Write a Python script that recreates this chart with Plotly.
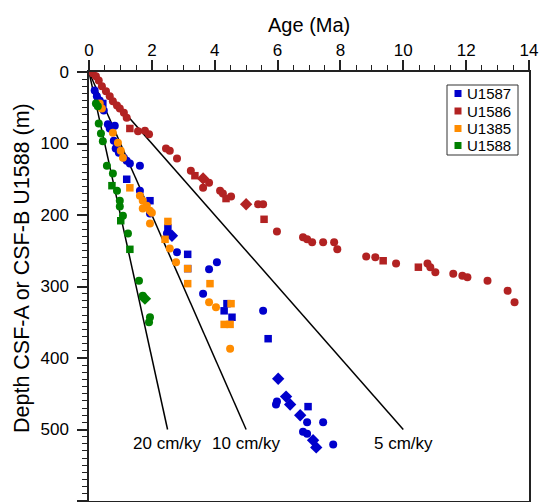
import plotly.graph_objects as go

# ---------------- data ----------------
# U1587 (blue)
u1587_circle_age = [0.18, 0.25, 0.34, 0.47, 0.60, 0.66, 0.82, 0.79, 0.85, 0.95, 1.11, 1.20, 1.30, 1.62, 1.62,
                    1.94, 2.48, 2.80, 4.07, 3.82, 3.63, 5.54, 5.98, 5.95, 6.94, 7.45, 6.81, 6.94, 7.77]
u1587_circle_depth = [26, 34, 40, 54, 73, 79, 75, 96, 107, 113, 120, 124, 128, 131, 166,
                      198, 226, 252, 266, 276, 310, 334, 461, 465, 490, 490, 503, 506, 521]
u1587_square_age = [0.44, 0.89, 1.20, 1.94, 2.51, 3.14, 3.14, 4.39, 4.30, 4.55, 5.70, 6.97]
u1587_square_depth = [44, 103, 150, 180, 218, 255, 275, 324, 334, 343, 373, 468]
u1587_diamond_age = [2.64, 6.02, 6.27, 6.40, 6.72, 7.13, 7.23]
u1587_diamond_depth = [229, 429, 454, 465, 480, 515, 525]

# U1586 (red)
u1586_circle_age = [0.12, 0.22, 0.31, 0.41, 0.54, 0.66, 0.76, 0.89, 0.98, 1.11,
                    1.20, 1.56, 1.78, 1.91, 2.45, 2.57, 2.80, 3.24, 3.63, 3.82,
                    4.17, 4.26, 4.52, 5.38, 5.54, 5.98, 6.81, 6.94, 7.10, 7.45,
                    7.80, 7.90, 8.82, 9.11, 9.77, 10.77, 10.86, 11.02, 11.59, 11.88,
                    12.04, 12.68, 13.32, 13.54]
u1586_circle_depth = [2, 6, 12, 20, 27, 34, 41, 47, 51, 57,
                      64, 83, 82, 87, 107, 110, 121, 138, 162, 155,
                      166, 170, 174, 185, 185, 223, 231, 234, 238, 238,
                      238, 248, 258, 259, 268, 268, 273, 280, 282, 285,
                      287, 292, 306, 322]
u1586_square_age = [1.30, 3.37, 4.36, 5.57, 9.36, 10.48]
u1586_square_depth = [79, 145, 177, 206, 264, 273]
u1586_diamond_age = [3.63, 5.00]
u1586_diamond_depth = [149, 185]

# U1385 (orange)
u1385_circle_age = [0.34, 0.41, 0.76, 0.92, 1.01, 1.08, 1.62, 1.71, 1.84, 1.71, 1.94, 2.00, 1.94,
                    2.57, 2.77, 3.82, 4.04, 4.49]
u1385_circle_depth = [44, 51, 85, 99, 110, 120, 173, 180, 187, 191, 194, 197, 212,
                      247, 266, 322, 329, 387]
u1385_square_age = [1.30, 2.51, 2.42, 3.14, 3.14, 3.85, 4.52, 4.30, 4.49]
u1385_square_depth = [162, 209, 234, 275, 296, 296, 324, 353, 353]
u1385_diamond_age = []
u1385_diamond_depth = []

# U1588 (green)
u1588_circle_age = [0.22, 0.28, 0.31, 0.38, 0.44, 0.57, 0.76, 0.89, 0.98, 0.98, 1.08, 1.24,
                    1.59, 1.71, 1.94, 1.91]
u1588_circle_depth = [44, 48, 72, 86, 97, 131, 142, 166, 180, 188, 201, 226,
                      292, 313, 343, 350]
u1588_square_age = [0.73, 1.01, 1.30]
u1588_square_depth = [159, 208, 248]
u1588_diamond_age = [1.78]
u1588_diamond_depth = [317]

# sedimentation-rate reference lines
rate_labels = ["20 cm/ky", "10 cm/ky", "5 cm/ky"]
rates_cm_per_ky = [20, 10, 5]
rate_line_end_depth = 500  # m

x_ticks = [0, 2, 4, 6, 8, 10, 12, 14]
y_ticks = [0, 100, 200, 300, 400, 500, 600]

legend_names = ["U1587", "U1586", "U1385", "U1588"]

# ---------------- figure ----------------
FONT = "Arial, 'Liberation Sans', Helvetica, sans-serif"
W, H = 540, 502
ML, MR, MT, MB = 89, 11, 72, 1
PW, PH = W - ML - MR, H - MT - MB

def px2paper(px, py):
    return (px - ML) / PW, 1 - (py - MT) / PH

fig = go.Figure()

# rate lines (under the points)
for lab, r in zip(rate_labels, rates_cm_per_ky):
    end_age = rate_line_end_depth / (r * 10.0)  # cm/ky -> m/Ma
    fig.add_trace(go.Scatter(x=[0, end_age], y=[0, rate_line_end_depth], mode="lines",
                             line=dict(color="black", width=1.5), showlegend=False,
                             hoverinfo="skip"))
    fig.add_annotation(x=end_age, y=rate_line_end_depth, text=lab, showarrow=False,
                       xanchor="center", yanchor="top", yshift=-2,
                       font=dict(family=FONT, size=17, color="black"))

colors = {"U1587": "#0000CC", "U1586": "#B22222", "U1385": "#FF8C00", "U1588": "#008000"}

series = [
    ("U1586", (u1586_square_age, u1586_square_depth),
     (u1586_circle_age, u1586_circle_depth), (u1586_diamond_age, u1586_diamond_depth)),
    ("U1587", (u1587_square_age, u1587_square_depth),
     (u1587_circle_age, u1587_circle_depth), (u1587_diamond_age, u1587_diamond_depth)),
    ("U1385", (u1385_square_age, u1385_square_depth),
     (u1385_circle_age, u1385_circle_depth), (u1385_diamond_age, u1385_diamond_depth)),
    ("U1588", (u1588_square_age, u1588_square_depth),
     (u1588_circle_age, u1588_circle_depth), (u1588_diamond_age, u1588_diamond_depth)),
]

for name, sq, ci, di in series:
    color = colors[name]
    fig.add_trace(go.Scatter(x=ci[0], y=ci[1], mode="markers", name=name, showlegend=False,
                             marker=dict(symbol="circle", size=8, color=color, line=dict(width=0))))
    if di[0]:
        fig.add_trace(go.Scatter(x=di[0], y=di[1], mode="markers", name=name, showlegend=False,
                                 marker=dict(symbol="diamond", size=9.5, color=color, line=dict(width=0))))
    fig.add_trace(go.Scatter(x=sq[0], y=sq[1], mode="markers", name=name, showlegend=False,
                             marker=dict(symbol="square", size=7.5, color=color, line=dict(width=0))))

# compact legend box (drawn in paper coordinates)
shapes = []
x0, y0 = px2paper(447, 85)
x1, y1 = px2paper(518, 155)
shapes.append(dict(type="rect", xref="paper", yref="paper", x0=x0, y0=y1, x1=x1, y1=y0,
                   line=dict(color="#333333", width=1), fillcolor="white", layer="above"))
row_y = [93.5, 111, 128.5, 145.5]
for name, ry in zip(legend_names, row_y):
    sx0, sy0 = px2paper(454.5, ry - 3.5)
    sx1, sy1 = px2paper(461.5, ry + 3.5)
    shapes.append(dict(type="rect", xref="paper", yref="paper", x0=sx0, y0=sy1, x1=sx1, y1=sy0,
                       line=dict(width=0), fillcolor=colors[name], layer="above"))
    tx, ty = px2paper(465, ry)
    fig.add_annotation(xref="paper", yref="paper", x=tx, y=ty, text=name, showarrow=False,
                       xanchor="left", yanchor="middle",
                       font=dict(family=FONT, size=15, color="black"))

# x-axis title (top)
tx, ty = px2paper(309, 24.5)
fig.add_annotation(xref="paper", yref="paper", x=tx, y=ty, text="Age (Ma)", showarrow=False,
                   xanchor="center", yanchor="middle",
                   font=dict(family=FONT, size=20, color="black"))

# y-axis title (left, rotated)
tx, ty = px2paper(22, 268)
fig.add_annotation(xref="paper", yref="paper", x=tx, y=ty, text="Depth CSF-A or CSF-B U1588 (m)",
                   showarrow=False, textangle=-90, xanchor="center", yanchor="middle",
                   font=dict(family=FONT, size=21.5, color="black"))

axis_color = "#222222"
fig.update_layout(
    width=W, height=H,
    margin=dict(l=ML, r=MR, t=MT, b=MB, autoexpand=False),
    paper_bgcolor="white", plot_bgcolor="white",
    font=dict(family=FONT, size=17, color="black"),
    showlegend=False,
    shapes=shapes,
    xaxis=dict(side="top", range=[0, 14], tickvals=x_ticks,
               showgrid=False, zeroline=False, showline=True, linecolor=axis_color, linewidth=1.5,
               mirror=True, ticks="outside", ticklen=10, tickwidth=1.5, tickcolor=axis_color,
               minor=dict(dtick=0.5, ticks="outside", ticklen=5, tickwidth=1, tickcolor=axis_color),
               tickfont=dict(family=FONT, size=17, color="black"), ticklabelstandoff=-3,
               automargin=False),
    yaxis=dict(range=[600, 0], tickvals=y_ticks,
               showgrid=False, zeroline=False, showline=True, linecolor=axis_color, linewidth=1.5,
               mirror=True, ticks="outside", ticklen=10, tickwidth=1.5, tickcolor=axis_color,
               minor=dict(dtick=10, ticks="outside", ticklen=5, tickwidth=1, tickcolor=axis_color),
               tickfont=dict(family=FONT, size=17, color="black"), ticklabelstandoff=5,
               automargin=False),
)

fig.write_html("out.html", config={"displayModeBar": False},
               post_script="document.body.style.margin='0';document.body.style.padding='0';"
                           "document.body.style.overflow='hidden';")
